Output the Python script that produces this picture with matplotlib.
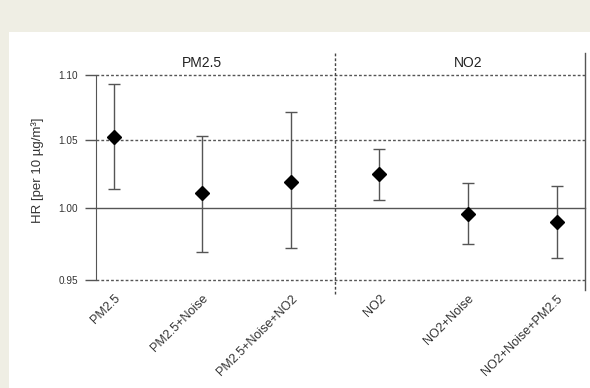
import matplotlib
matplotlib.use("Agg")
import matplotlib.pyplot as plt
from matplotlib.patches import Rectangle
from matplotlib.transforms import blended_transform_factory

plt.rcParams['font.family'] = ['Liberation Sans', 'DejaVu Sans']

# Data (hazard ratios with 95% CI)
models = ["PM2.5", "PM2.5+Noise", "PM2.5+Noise+NO2", "NO2", "NO2+Noise", "NO2+Noise+PM2.5"]
hr = [1.052, 1.011, 1.019, 1.025, 0.996, 0.990]
ci_low = [1.014, 0.969, 0.972, 1.006, 0.975, 0.965]
ci_high = [1.093, 1.053, 1.071, 1.043, 1.018, 1.016]
groups = ["PM2.5", "NO2"]
group_center = [1, 4]
yticks = [0.95, 1.00, 1.05, 1.10]

W, H = 590, 388
fig = plt.figure(figsize=(W / 100, H / 100), dpi=100, facecolor="#efeee4")
# white panel
fig.patches.append(Rectangle((9 / W, 0), 1, (H - 32) / H, transform=fig.transFigure,
                             facecolor="white", edgecolor="none", zorder=-10))

ax = fig.add_axes([96 / W, 1 - 280 / H, (585 - 96) / W, 205 / H])
ax.set_facecolor("none")
ax.set_yscale("log")
ax.set_ylim(0.95, 1.10)
ax.set_xlim(-0.2, 5.32)

x = list(range(len(models)))
yerr = [[h - l for h, l in zip(hr, ci_low)], [u - h for h, u in zip(hr, ci_high)]]
ax.errorbar(x, hr, yerr=yerr, fmt="D", color="black", ms=7, ecolor="#555555",
            elinewidth=1, capsize=4, capthick=1, zorder=5)

# reference lines
for v in yticks:
    if v == 1.00:
        ax.axhline(v, color="#555555", lw=1, zorder=1, clip_on=False)
    else:
        ax.axhline(v, color="#555555", lw=1, ls=(0, (2, 1.5)), zorder=1, clip_on=False)

# separator and right border, extending beyond the axes
tr = blended_transform_factory(ax.transData, ax.transAxes)
ax.plot([2.5, 2.5], [-0.07, 1.107], transform=tr, color="#444444", lw=1,
        ls=(0, (2, 1.5)), clip_on=False)
ax.plot([5.32, 5.32], [-0.05, 1.107], transform=tr, color="#555555", lw=1, clip_on=False)

for g, c in zip(groups, group_center):
    ax.text(c, 1.0585, g, transform=tr, ha="center", va="center", fontsize=10, color="#222222")

for s in ["top", "right", "bottom"]:
    ax.spines[s].set_visible(False)
ax.spines["left"].set_color("#555555")

ax.set_yticks(yticks)
ax.set_yticklabels([f"{v:.2f}" for v in yticks])
ax.yaxis.set_minor_locator(matplotlib.ticker.NullLocator())
ax.tick_params(axis="y", length=8, width=1, color="#555555", pad=5, labelsize=7.2,
               labelcolor="#333333")

ax.set_xticks(x)
ax.set_xticklabels(models, rotation=45, ha="right", va="top", rotation_mode="anchor")
ax.tick_params(axis="x", length=0, pad=9, labelsize=9, labelcolor="#333333")

ax.set_ylabel("HR [per 10 µg/m³]", fontsize=9.5, color="#333333")
ax.yaxis.set_label_coords(-0.106, 0.535)

fig.savefig("out.png", dpi=100, facecolor=fig.get_facecolor())
